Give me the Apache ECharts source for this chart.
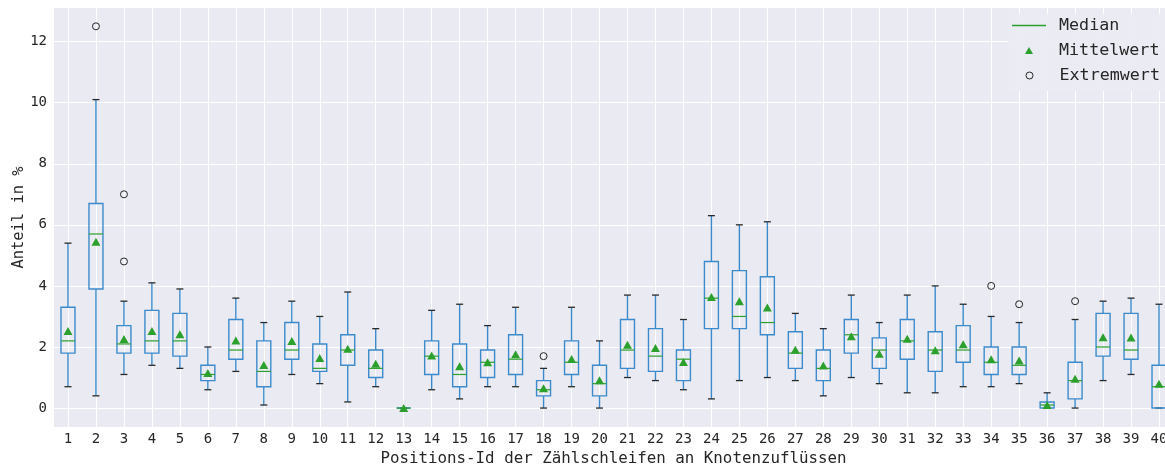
<!DOCTYPE html>
<html>
<head>
<meta charset="utf-8">
<script src="https://cdn.jsdelivr.net/npm/echarts@6/dist/echarts.min.js"></script>
<style>
html,body{margin:0;padding:0;background:#fff;}
#chart{width:1165px;height:467px;}
</style>
</head>
<body>
<div id="chart"></div>
<script>
const categories = ['1','2','3','4','5','6','7','8','9','10','11','12','13','14','15','16','17','18','19','20',
  '21','22','23','24','25','26','27','28','29','30','31','32','33','34','35','36','37','38','39','40'];
const whiskerLow  = [0.7,0.4,1.1,1.4,1.3,0.6,1.2,0.1,1.1,0.8, 0.2,0.7,0.0,0.6,0.3,0.7,0.7,0.0,0.7,0.0,
  1.0,0.9,0.6,0.3,0.9,1.0,0.9,0.4,1.0,0.8, 0.5,0.5,0.7,0.7,0.8,0.0,0.0,0.9,1.1,0.0];
const quartile1   = [1.8,3.9,1.8,1.8,1.7,0.9,1.6,0.7,1.6,1.2, 1.4,1.0,0.0,1.1,0.7,1.0,1.1,0.4,1.1,0.4,
  1.3,1.2,0.9,2.6,2.6,2.4,1.3,0.9,1.8,1.3, 1.6,1.2,1.5,1.1,1.1,0.0,0.3,1.7,1.6,0.0];
const medians     = [2.2,5.7,2.1,2.2,2.2,1.1,1.9,1.2,1.9,1.3, 1.9,1.3,0.0,1.7,1.1,1.5,1.6,0.6,1.5,0.8,
  1.9,1.7,1.6,3.6,3.0,2.8,1.8,1.3,2.4,1.9, 2.2,1.9,1.9,1.5,1.4,0.1,0.9,2.0,1.9,0.7];
const quartile3   = [3.3,6.7,2.7,3.2,3.1,1.4,2.9,2.2,2.8,2.1, 2.4,1.9,0.0,2.2,2.1,1.9,2.4,0.9,2.2,1.4,
  2.9,2.6,1.9,4.8,4.5,4.3,2.5,1.9,2.9,2.3, 2.9,2.5,2.7,2.0,2.0,0.2,1.5,3.1,3.1,1.4];
const whiskerHigh = [5.4,10.1,3.5,4.1,3.9,2.0,3.6,2.8,3.5,3.0, 3.8,2.6,0.0,3.2,3.4,2.7,3.3,1.3,3.3,2.2,
  3.7,3.7,2.9,6.3,6.0,6.1,3.1,2.6,3.7,2.8, 3.7,4.0,3.4,3.0,2.8,0.5,2.9,3.5,3.6,3.4];
const means       = [2.52,5.45,2.26,2.52,2.42,1.15,2.21,1.41,2.2,1.64, 1.94,1.45,0.0,1.72,1.37,1.5,1.76,0.65,1.61,0.91,
  2.07,1.97,1.51,3.64,3.5,3.29,1.91,1.39,2.35,1.78, 2.27,1.89,2.09,1.6,1.56,0.1,0.96,2.32,2.31,0.8];
const outlierCats = ['2','3','3','18','34','35','37'];
const outlierVals = [12.5,7.0,4.8,1.7,4.0,3.4,3.5];

const BLUE = '#3b8bcc';
const GREEN = '#2ca02c';
const TEXT = '#262626';
const FONT = 'DejaVu Sans Mono';

const boxData = categories.map((c, i) => [i, whiskerLow[i], quartile1[i], medians[i], quartile3[i], whiskerHigh[i]]);
const meanData = categories.map((c, i) => [c, means[i]]);
const outlierData = outlierCats.map((c, i) => [c, outlierVals[i]]);

const chart = echarts.init(document.getElementById('chart'), null, {renderer: 'canvas'});

const option = {
  animation: false,
  backgroundColor: '#ffffff',
  textStyle: {fontFamily: FONT, color: TEXT},
  grid: {left: 54, top: 8, width: 1119, height: 419, show: true, backgroundColor: '#eaeaf2', borderWidth: 0,
         containLabel: false, outerBoundsMode: 'none'},
  xAxis: {
    type: 'category',
    data: categories,
    boundaryGap: true,
    name: 'Positions-Id der Zählschleifen an Knotenzuflüssen',
    nameLocation: 'middle',
    nameGap: 24,
    nameMoveOverlap: false,
    nameTextStyle: {fontFamily: FONT, fontSize: 15.8, color: TEXT},
    axisLine: {show: false},
    axisTick: {show: false, alignWithLabel: true},
    axisLabel: {interval: 0, fontFamily: FONT, fontSize: 14, color: TEXT, margin: 5},
    splitLine: {show: true, interval: 0, alignWithLabel: true, lineStyle: {color: '#ffffff', width: 1}}
  },
  yAxis: {
    type: 'value',
    min: -0.62,
    max: 13.1,
    splitNumber: 7,
    name: 'Anteil in %',
    nameLocation: 'middle',
    nameGap: 28,
    nameMoveOverlap: false,
    nameTextStyle: {fontFamily: FONT, fontSize: 15.4, color: TEXT},
    axisLine: {show: false},
    axisTick: {show: false},
    axisLabel: {fontFamily: FONT, fontSize: 14, color: TEXT, margin: 7, showMinLabel: false, showMaxLabel: false},
    splitLine: {show: true, showMinLine: false, showMaxLine: false, lineStyle: {color: '#ffffff', width: 1}}
  },
  graphic: [{
    type: 'rect', z: 1, silent: true,
    shape: {x: 1008, y: 14, width: 170, height: 77, r: 4},
    style: {fill: 'rgba(235,235,243,0.95)'}
  }],
  legend: [
    {data: [{name: 'Median', icon: 'rect', itemStyle: {color: GREEN, borderColor: GREEN, borderWidth: 0}, lineStyle: {color: GREEN}}],
     left: 1012, top: 17, padding: 0, itemWidth: 34, itemHeight: 1.4,
     itemStyle: {color: GREEN, borderColor: GREEN, borderWidth: 0},
     textStyle: {fontFamily: FONT, fontSize: 16.7, color: TEXT, padding: [0, 0, 0, 8]}},
    {data: [{name: 'Mittelwert', icon: 'triangle', itemStyle: {color: GREEN, opacity: 1}}],
     left: 1025, top: 42, padding: 0, itemWidth: 8, itemHeight: 7,
     textStyle: {fontFamily: FONT, fontSize: 16.7, color: TEXT, padding: [0, 0, 0, 21]}},
    {data: [{name: 'Extremwert', icon: 'circle', itemStyle: {color: 'rgba(0,0,0,0)', borderColor: TEXT, borderWidth: 1, opacity: 1}}],
     left: 1025.5, top: 67, padding: 0, itemWidth: 7, itemHeight: 7,
     textStyle: {fontFamily: FONT, fontSize: 16.7, color: TEXT, padding: [0, 0, 0, 21.5]}}
  ],
  series: [
    {
      name: 'Median',
      type: 'custom',
      z: 2,
      data: boxData,
      itemStyle: {color: GREEN, borderColor: GREEN},
      encode: {x: 0, y: [1, 2, 3, 4, 5]},
      renderItem: function (params, api) {
        const xi = api.value(0);
        const c = v => api.coord([xi, v]);
        const band = api.size([1, 0])[0];
        const bw = band * 0.5, cw = band * 0.25;
        const pl = c(api.value(1)), p1 = c(api.value(2)), pm = c(api.value(3)), p3 = c(api.value(4)), ph = c(api.value(5));
        const cx = pl[0];
        const blueStyle = {stroke: BLUE, lineWidth: 1.4, fill: 'none'};
        const capStyle = {stroke: '#2a2a2a', lineWidth: 1.3};
        return {type: 'group', children: [
          {type: 'line', shape: {x1: cx, y1: ph[1], x2: cx, y2: p3[1]}, style: blueStyle},
          {type: 'line', shape: {x1: cx, y1: p1[1], x2: cx, y2: pl[1]}, style: blueStyle},
          {type: 'line', shape: {x1: cx - cw / 2, y1: ph[1], x2: cx + cw / 2, y2: ph[1]}, style: capStyle},
          {type: 'line', shape: {x1: cx - cw / 2, y1: pl[1], x2: cx + cw / 2, y2: pl[1]}, style: capStyle},
          {type: 'rect', shape: {x: cx - bw / 2, y: p3[1], width: bw, height: p1[1] - p3[1]}, style: blueStyle},
          {type: 'line', shape: {x1: cx - bw / 2, y1: pm[1], x2: cx + bw / 2, y2: pm[1]}, style: {stroke: GREEN, lineWidth: 1.2}}
        ]};
      }
    },
    {
      name: 'Mittelwert',
      type: 'scatter',
      z: 3,
      data: meanData,
      symbol: 'triangle',
      symbolSize: [9, 8],
      itemStyle: {color: GREEN, opacity: 1}
    },
    {
      name: 'Extremwert',
      type: 'scatter',
      z: 3,
      data: outlierData,
      symbol: 'circle',
      symbolSize: 7,
      itemStyle: {color: 'rgba(0,0,0,0)', borderColor: TEXT, borderWidth: 1, opacity: 1}
    }
  ]
};
chart.setOption(option);
</script>
</body>
</html>
